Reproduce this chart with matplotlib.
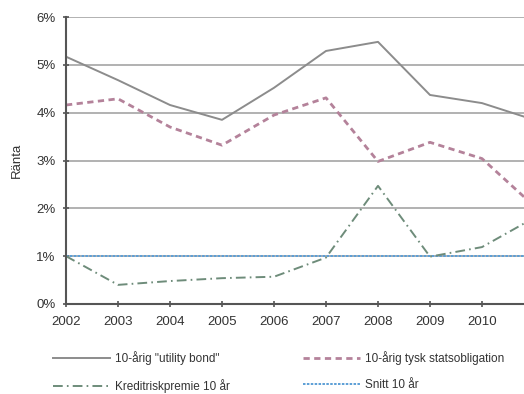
import matplotlib
matplotlib.use("Agg")
import matplotlib.pyplot as plt
from matplotlib.ticker import FuncFormatter

plt.rcParams['font.family'] = ['Liberation Sans', 'DejaVu Sans']
plt.rcParams['lines.scale_dashes'] = False

years = [2002, 2003, 2004, 2005, 2006, 2007, 2008, 2009, 2010, 2011]
utility_bond = [5.17, 4.68, 4.16, 3.85, 4.52, 5.29, 5.48, 4.37, 4.20, 3.85]
german_bond = [4.16, 4.29, 3.70, 3.32, 3.95, 4.31, 2.98, 3.38, 3.04, 2.05]
credit_premium = [1.00, 0.40, 0.48, 0.54, 0.57, 0.97, 2.47, 0.99, 1.19, 1.80]
avg_10y = [1.00] * len(years)

labels = ['10-årig "utility bond"', 'Kreditriskpremie 10 år',
          '10-årig tysk statsobligation', 'Snitt 10 år']

W, H = 524, 394
fig = plt.figure(figsize=(W / 100, H / 100), dpi=100)
fig.patch.set_facecolor('white')
# axes run a little past the right edge of the figure
ax = fig.add_axes([66 / W, (H - 304) / H, 468 / W, 287 / H])

ax.set_xlim(2002, 2011)
ax.set_ylim(0, 6)

for v in range(1, 7):
    ax.axhline(v, color='#a4a4a4', lw=1.2, zorder=1)

l1, = ax.plot(years, utility_bond, color='#8c8c8c', lw=1.4, zorder=3)
l2, = ax.plot(years, german_bond, color='#b4829a', lw=2.0, zorder=3,
              dashes=(4.5, 3.2))
l3, = ax.plot(years, credit_premium, color='#6e8c7a', lw=1.4, zorder=3,
              dashes=(7, 3, 1.2, 3))
l4, = ax.plot(years, avg_10y, color='#5c9fd6', lw=1.4, zorder=2,
              dashes=(1.8, 1.0))

for s in ['top', 'right']:
    ax.spines[s].set_visible(False)
for s in ['left', 'bottom']:
    ax.spines[s].set_color('#555555')
    ax.spines[s].set_linewidth(1.5)
    ax.spines[s].set_zorder(4)

ax.set_xticks(years[:-1])
ax.set_xticklabels([str(y) for y in years[:-1]])
ax.set_yticks(range(0, 7))
ax.yaxis.set_major_formatter(FuncFormatter(lambda v, p: f"{int(v)}%"))
ax.tick_params(axis='x', direction='inout', length=5, width=1.2,
               color='#555555', labelsize=9.5, labelcolor='#333333', pad=6)
ax.tick_params(axis='y', direction='inout', length=5, width=1.2,
               color='#555555', labelsize=9.5, labelcolor='#333333', pad=5)

fig.text(17 / W, 1 - 160 / H, 'Ränta', rotation=90, ha='center', va='center',
         fontsize=9.5, color='#333333')

fig.legend([l1, l3, l2, l4], labels, ncol=2, loc='upper left',
           bbox_to_anchor=(53 / W, 1 - 351 / H), frameon=False,
           fontsize=8.5, handlelength=4.83, handletextpad=0.42,
           columnspacing=6.2, labelspacing=1.22, labelcolor='#333333',
           borderaxespad=0, borderpad=0)

fig.savefig('out.png', dpi=100, facecolor='white')
